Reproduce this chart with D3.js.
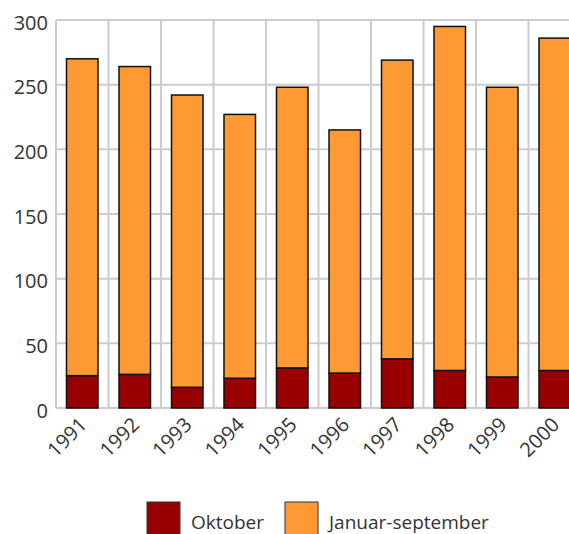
<!DOCTYPE html>
<html>
<head>
<meta charset="utf-8">
<script src="https://cdn.jsdelivr.net/npm/d3@7"></script>
<style>
  body { margin: 0; background: #fff; }
  svg { display: block; }
  svg text { font-family: "Open Sans", "Noto Sans", sans-serif; fill: #333; }
  .grid line { stroke: #cccccc; stroke-width: 2px; }
  .tick text { font-size: 20px; }
</style>
</head>
<body>
<svg width="569" height="534"></svg>
<script>
  // values
  const years = ["1991", "1992", "1993", "1994", "1995", "1996", "1997", "1998", "1999", "2000"];
  const oktober = [25, 26, 16, 23, 31, 27, 38, 29, 24, 29];
  const januarSeptember = [245, 238, 226, 204, 217, 188, 231, 266, 224, 257];
  const yTicks = [0, 50, 100, 150, 200, 250, 300];
  const seriesNames = ["Oktober", "Januar-september"];
  const seriesColors = ["#990000", "#ff9933"];

  const svg = d3.select("svg");

  // plot area; last band runs past the right edge like the reference
  const plotLeft = 56, plotTop = 20, plotBottom = 408;
  const bandW = 52.5;

  const x = d3.scaleBand()
    .domain(years)
    .range([plotLeft, plotLeft + bandW * years.length])
    .paddingInner(0.4)
    .paddingOuter(0.2);

  const y = d3.scaleLinear()
    .domain([0, 300])
    .range([plotBottom, plotTop]);

  // horizontal gridlines
  svg.append("g")
    .attr("class", "grid")
    .selectAll("line")
    .data(yTicks)
    .join("line")
      .attr("x1", plotLeft)
      .attr("x2", plotLeft + bandW * years.length)
      .attr("y1", d => y(d))
      .attr("y2", d => y(d));

  // vertical gridlines between categories
  svg.append("g")
    .attr("class", "grid")
    .selectAll("line")
    .data(d3.range(years.length + 1))
    .join("line")
      .attr("x1", i => plotLeft + i * bandW)
      .attr("x2", i => plotLeft + i * bandW)
      .attr("y1", plotTop)
      .attr("y2", plotBottom);

  // stack the two series, Oktober at the bottom
  const rows = years.map((yr, i) => ({ year: yr, Oktober: oktober[i], "Januar-september": januarSeptember[i] }));
  const stacked = d3.stack().keys(seriesNames)(rows);

  svg.append("g")
    .selectAll("g")
    .data(stacked)
    .join("g")
      .attr("fill", (d, i) => seriesColors[i])
    .selectAll("rect")
    .data(d => d)
    .join("rect")
      .attr("x", d => x(d.data.year))
      .attr("width", x.bandwidth())
      .attr("y", d => y(d[1]))
      .attr("height", d => y(d[0]) - y(d[1]))
      .attr("stroke", "#111")
      .attr("stroke-width", 1.5);

  // y axis labels
  const yAxis = svg.append("g")
    .attr("transform", "translate(" + (plotLeft - 8) + ",2)")
    .call(d3.axisLeft(y).tickValues(yTicks).tickSize(0).tickPadding(0));
  yAxis.select(".domain").remove();
  yAxis.selectAll(".tick text").attr("dy", "0.35em");

  // x axis labels, rotated
  const xAxis = svg.append("g")
    .attr("transform", "translate(0," + plotBottom + ")")
    .call(d3.axisBottom(x).tickSize(0).tickPadding(0));
  xAxis.select(".domain").remove();
  xAxis.selectAll(".tick text")
    .attr("text-anchor", "end")
    .attr("y", 0)
    .attr("dy", "0.35em")
    .attr("transform", "translate(1,13) rotate(-45)");

  // legend
  const legend = svg.append("g").attr("transform", "translate(147,502)");
  const legendX = [0, 138];
  seriesNames.forEach((name, i) => {
    const item = legend.append("g").attr("transform", "translate(" + legendX[i] + ",0)");
    item.append("rect")
      .attr("width", 33)
      .attr("height", 33)
      .attr("fill", seriesColors[i])
      .attr("stroke", "#333")
      .attr("stroke-width", 1);
    item.append("text")
      .attr("x", 44)
      .attr("y", 27)
      .style("font-size", "19px")
      .text(name);
  });
</script>
</body>
</html>
